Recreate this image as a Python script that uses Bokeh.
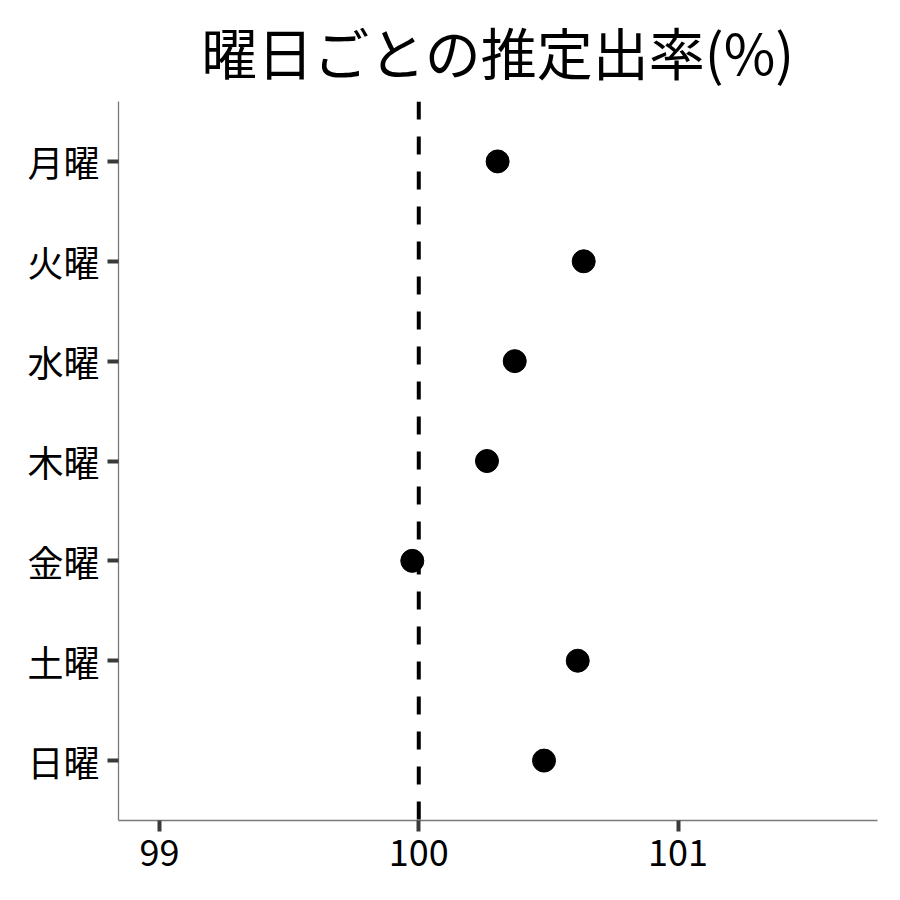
from bokeh.plotting import figure
from bokeh.models import FactorRange, Range1d, Span, FixedTicker
from bokeh.embed import file_html
from bokeh.resources import INLINE

days = ["月曜", "火曜", "水曜", "木曜", "金曜", "土曜", "日曜"]
rates = [100.304, 100.636, 100.370, 100.263, 99.975, 100.613, 100.483]
x_ticks = [99, 100, 101]
ref_value = 100
title_text = "曜日ごとの推定出率(%)"

FONT = "Noto Sans CJK JP"

p = figure(
    width=884, height=884,
    frame_width=759, frame_height=719,
    y_range=FactorRange(factors=list(reversed(days)), range_padding=0.2 / 7),
    x_range=Range1d(98.842, 101.769),
    output_backend="svg", toolbar_location=None,
    min_border_left=118, min_border_top=101, min_border_right=7, min_border_bottom=64,
    title=title_text,
)

p.title.text_font = FONT
p.title.text_font_size = "56px"
p.title.text_font_style = "normal"
p.title.align = "center"
p.title.text_color = "black"
p.title.vertical_align = "top"
p.title.text_baseline = "top"
p.title.standoff = 18

p.scatter(x=rates, y=days, size=23, color="black", line_color="black")

p.add_layout(Span(location=ref_value, dimension="height", line_color="black",
                  line_width=4, line_dash="18 17"))

p.xgrid.visible = False
p.ygrid.visible = False
p.outline_line_color = None
p.background_fill_color = "white"
p.border_fill_color = "white"

p.xaxis.ticker = FixedTicker(ticks=x_ticks)
for ax in (p.xaxis[0], p.yaxis[0]):
    ax.axis_line_color = "#7a7a7a"
    ax.axis_line_width = 1.3
    ax.major_tick_line_color = "#3a3a3a"
    ax.major_tick_line_width = 4
    ax.major_tick_out = 11
    ax.major_tick_in = 0
    ax.minor_tick_line_color = None
    ax.major_label_text_font = FONT
    ax.major_label_text_font_size = "36px"
    ax.major_label_text_color = "black"
    ax.major_label_standoff = 8

open("out.html", "w").write(file_html(p, INLINE))
